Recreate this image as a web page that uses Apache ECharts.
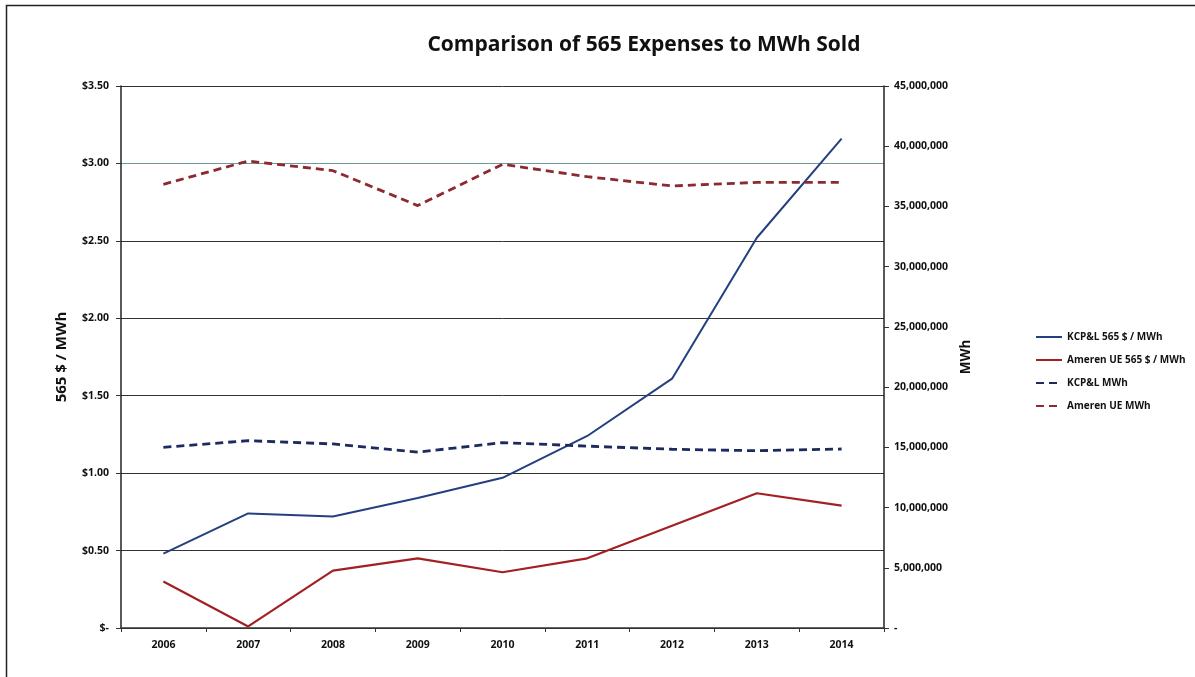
<!DOCTYPE html>
<html>
<head>
<meta charset="utf-8">
<script src="https://cdn.jsdelivr.net/npm/echarts@6/dist/echarts.min.js"></script>
<style>html,body{margin:0;padding:0;background:#fff;}#c{width:1195px;height:677px;}</style>
</head>
<body>
<div id="c"></div>
<script>
const years = ['2006','2007','2008','2009','2010','2011','2012','2013','2014'];
const kcplCost = [0.48, 0.74, 0.72, 0.84, 0.97, 1.24, 1.61, 2.52, 3.16];
const amerenCost = [0.30, 0.01, 0.37, 0.45, 0.36, 0.45, 0.66, 0.87, 0.79];
const kcplMWh = [15000000, 15550000, 15280000, 14600000, 15390000, 15100000, 14840000, 14720000, 14860000];
const amerenMWh = [36840000, 38770000, 37970000, 35070000, 38500000, 37470000, 36700000, 37000000, 37000000];
const seriesNames = ['KCP&L 565 $ / MWh', 'Ameren UE 565 $ / MWh', 'KCP&L MWh', 'Ameren UE MWh'];

const FONT = '"Open Sans", "Noto Sans", sans-serif';
const chart = echarts.init(document.getElementById('c'));
chart.setOption({
  animation: false,
  backgroundColor: '#fff',
  title: {
    text: 'Comparison of 565 Expenses to MWh Sold',
    left: 639, top: 30, textAlign: 'center',
    textStyle: { fontFamily: FONT, fontSize: 21, fontWeight: 'bold', color: '#111' }
  },
  graphic: [{
    type: 'rect', shape: { x: 6.5, y: 5.5, width: 1250, height: 720 },
    style: { fill: 'none', stroke: '#222', lineWidth: 1.5 }, silent: true
  }],
  legend: {
    orient: 'vertical', left: 1030, top: 327, itemWidth: 26, itemHeight: 10, itemGap: 13,
    data: seriesNames,
    itemStyle: { opacity: 0 },
    textStyle: { fontFamily: FONT, fontSize: 10, fontWeight: 'bold', color: '#111' }
  },
  grid: { left: 121, right: 311, top: 86, bottom: 49 },
  xAxis: {
    type: 'category', data: years, boundaryGap: true,
    axisLine: { lineStyle: { color: '#333', width: 1.5 } },
    axisTick: { show: true, length: 4, lineStyle: { color: '#333' } },
    axisLabel: { fontFamily: FONT, fontSize: 10.5, fontWeight: 'bold', color: '#111', margin: 12 }
  },
  yAxis: [{
    type: 'value', min: 0, max: 3.5, interval: 0.5,
    name: '565 $ / MWh', nameLocation: 'middle', nameGap: 52, nameRotate: 90,
    nameTextStyle: { fontFamily: FONT, fontSize: 15, fontWeight: 'bold', color: '#111' },
    axisLine: { show: true, lineStyle: { color: '#222', width: 1.5 } },
    axisTick: { show: true, length: 5, lineStyle: { color: '#333' } },
    splitLine: { lineStyle: { color: ['#333','#333','#333','#333','#333','#333','#6f9a9a','#333'], width: 1 } },
    axisLabel: { fontFamily: FONT, fontSize: 10.5, fontWeight: 'bold', color: '#111', margin: 12,
      formatter: v => v === 0 ? '$-' : '$' + v.toFixed(2) }
  }, {
    type: 'value', min: 0, max: 45000000, interval: 5000000, position: 'right',
    name: 'MWh', nameLocation: 'middle', nameGap: 70, nameRotate: 90,
    nameTextStyle: { fontFamily: FONT, fontSize: 13.5, fontWeight: 'bold', color: '#111' },
    axisLine: { show: true, lineStyle: { color: '#222', width: 1.5 } },
    axisTick: { show: true, length: 5, lineStyle: { color: '#333' } },
    splitLine: { show: false },
    axisLabel: { fontFamily: FONT, fontSize: 10.5, fontWeight: 'bold', color: '#111', margin: 10,
      formatter: v => v === 0 ? '-' : v.toLocaleString('en-US') }
  }],
  series: [{
    name: seriesNames[0], type: 'line', data: kcplCost, yAxisIndex: 0,
    symbol: 'none', lineStyle: { color: '#24407f', width: 2 }, itemStyle: { color: '#24407f' }
  }, {
    name: seriesNames[1], type: 'line', data: amerenCost, yAxisIndex: 0,
    symbol: 'none', lineStyle: { color: '#a31f24', width: 2.2 }, itemStyle: { color: '#a31f24' }
  }, {
    name: seriesNames[2], type: 'line', data: kcplMWh, yAxisIndex: 1,
    symbol: 'none', lineStyle: { color: '#1c2b5e', width: 2.8, type: [8, 5] }, itemStyle: { color: '#1c2b5e' }
  }, {
    name: seriesNames[3], type: 'line', data: amerenMWh, yAxisIndex: 1,
    symbol: 'none', lineStyle: { color: '#8c2a30', width: 2.8, type: [8, 5] }, itemStyle: { color: '#8c2a30' }
  }]
});
</script>
</body>
</html>
